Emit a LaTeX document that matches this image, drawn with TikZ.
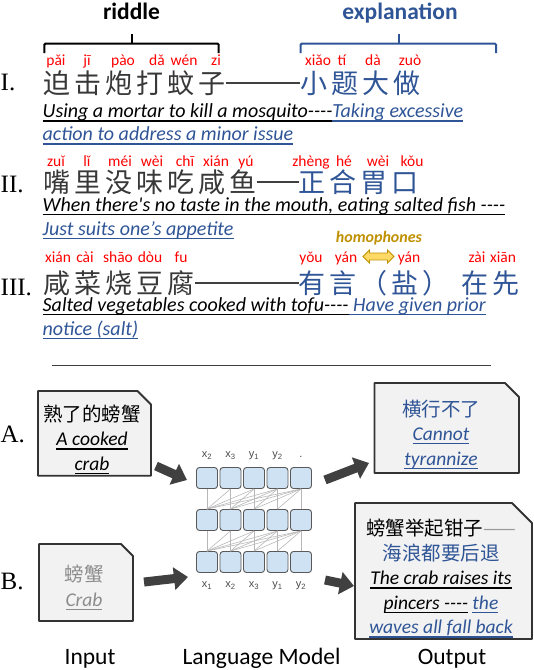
\documentclass[tikz,border=0pt]{standalone}
\usepackage{fontspec}
\setmainfont{Carlito}
\newfontfamily\zh{Noto Sans CJK SC}
\newfontfamily\zhw[LetterSpace=15]{Noto Sans CJK SC}
\newfontfamily\rom{Liberation Serif}
\newfontfamily\arl{Liberation Sans}
\newsavebox{\ulbox}
\newcommand{\uln}[1]{\begingroup\sbox{\ulbox}{#1}\rlap{\rule[-3.8pt]{\wd\ulbox}{1.1pt}}\usebox{\ulbox}\endgroup}
\usetikzlibrary{arrows.meta,shapes.arrows}
\definecolor{expblue}{RGB}{47,85,151}
\definecolor{homgold}{RGB}{191,144,0}
\definecolor{homfill}{RGB}{255,217,102}
\definecolor{cellblue}{RGB}{207,226,243}
\tikzset{
  pinyin/.style={text=red, font=\fontsize{15.5}{16}\selectfont, anchor=base, inner sep=0},
  hanzi/.style={font=\zhw\fontsize{27}{27}\selectfont, anchor=west, inner sep=0},
  gloss/.style={font=\fontsize{20}{20}\selectfont\itshape, anchor=base west, inner sep=0},
  numeral/.style={font=\rom\fontsize{25}{25}\selectfont, anchor=base west, inner sep=0},
  toplabel/.style={font=\bfseries\fontsize{23.5}{24}\selectfont, anchor=base, inner sep=0},
  footlabel/.style={font=\fontsize{23.5}{24}\selectfont, anchor=base, inner sep=0},
  bracket/.style={line width=2pt, rounded corners=1pt},
  dashline/.style={line width=1.3pt, black!75},
  card/.style={draw=black!80, fill=black!5, line width=1.8pt, line join=round},
  cardtext/.style={align=center, anchor=north, inner sep=0, font=\fontsize{19.5}{24.5}\selectfont\itshape},
  cell/.style={draw=black!65, fill=cellblue, rounded corners=3pt, minimum size=21pt, inner sep=0, line width=0.9pt},
  link/.style={black!28, line width=0.6pt},
  lbl/.style={font=\arl\fontsize{11}{11}\selectfont, text=black!70, inner sep=0, anchor=base},
  fat/.style={line width=9pt, draw=black!75, -{Triangle[length=14pt,width=22pt]}},
}
\begin{document}
\begin{tikzpicture}[x=1pt, y=-1pt]
\useasboundingbox (0,0) rectangle (534,670);

\node[toplabel] (riddle) at (131.5,19) {riddle};
\node[toplabel, text=expblue] (explan) at (400,19) {explanation};
\draw[bracket] (44.4,53) |- (218.7,43.7) -- (218.7,53);
\draw[bracket] (131.5,43.7) -- (131.5,34);
\draw[bracket, expblue] (300.7,53) |- (496,43.7) -- (496,53);
\draw[bracket, expblue] (399,43.7) -- (399,34);

\node[numeral] (rom1) at (0.5,90.5) {I.};
\node[hanzi, text=black!78] (r1) at (43,83) {迫击炮打蚊子};
\node[hanzi, text=expblue] (e1) at (300,83) {小题大做};
\draw[dashline] (r1) -- (e1);
\foreach \x/\p in {56/pǎi,87/jī,123/pào,157/dǎ,184/wén,216/zi,318/xiǎo,342/tí,373/dà,410/zuò}
  \node[pinyin] (pa\x) at (\x,65) {\p};
\node[gloss] (g1a) at (42.5,117.7) {\uln{Using a mortar to kill a mosquito-{}-{}-{}-}{\color{expblue}\uln{Taking excessive}}};
\node[gloss, text=expblue] (g1b) at (42.5,140.7) {\uln{action to address a minor issue}};

\node[numeral] (rom2) at (0.5,192.7) {II.};
\node[hanzi, text=black!78] (r2) at (43.5,182) {嘴里没味吃咸鱼};
\node[hanzi, text=expblue] (e2) at (298.5,182) {正合胃口};
\draw[dashline] (r2) -- (e2);
\foreach \x/\p in {56/zuǐ,87/lǐ,120/méi,152/wèi,185/chī,216/xián,246/yú,311/zhèng,344/hé,378/wèi,412/kǒu}
  \node[pinyin] (pb\x) at (\x,166) {\p};
\node[gloss] (g2a) at (42.5,211) {\uln{When there\textquotesingle s no taste in the mouth, eating salted fish -{}-{}-{}-}};
\node[gloss, text=expblue] (g2b) at (42.5,235) {\uln{Just suits one’s appetite}};

\node[numeral] (rom3) at (0.5,295) {III.};
\node[hanzi, text=black!78] (r3) at (43,283) {咸菜烧豆腐};
\node[hanzi, text=expblue] (e3) at (298.5,283) {有言（盐）\hspace{12pt}在先};
\draw[dashline] (r3) -- (e3);
\foreach \x/\p in {58/xián,85/cài,118/shāo,150/dòu,181/fu,311/yǒu,346/yán,409/yán,477/zài,503/xiān}
  \node[pinyin] (pc\x) at (\x,262) {\p};
\node[font=\bfseries\itshape\fontsize{16}{16}\selectfont, text=homgold, anchor=base, inner sep=0] (hom) at (379,242) {homophones};
\node[double arrow, draw=homgold, fill=homfill, line width=0.8pt, minimum height=31pt, minimum width=13pt, double arrow head extend=3pt, inner sep=3pt] (homarr) at (378.5,256.5) {};
\node[gloss] (g3a) at (42.5,311) {\uln{Salted vegetables cooked with tofu-{}-{}-{}-}{\color{expblue}\uln{\ Have given prior}}};
\node[gloss, text=expblue] (g3b) at (42.5,335) {\uln{notice (salt)}};

\draw[line width=1.5pt, black!75] (52,365.4) -- (491,365.4);

\node[numeral] (roma) at (0.5,442) {A.};
\node[numeral] (romb) at (0.5,589) {B.};

\draw[card] (38,475.7) |- (137.5,391) -- (151,404.5) -- (151,475.7) -- cycle;
\draw[card] (374.5,473) |- (505,383) -- (519,397) -- (519,473) -- cycle;
\draw[card] (39,621) |- (121,544) -- (133,556) -- (133,621) -- cycle;
\draw[card] (355,639) |- (512,503) -- (532,523) -- (532,639) -- cycle;

\node[cardtext] (inA) at (92,404.5) {{\zh 熟了的螃蟹}\\\uln{A cooked}\\\uln{crab}};
\node[cardtext, text=expblue] (outA) at (441,399.5) {{\zh 横行不了}\\\uln{Cannot}\\\uln{tyrannize}};
\node[cardtext, text=black!45] (inB) at (84,565) {{\zh 螃蟹}\\\uln{Crab}};
\node[cardtext] (outB) at (441,519) {{\zh 螃蟹举起钳子{\color{black!40}——}}\\{\zh\color{expblue}海浪都要后退}\\\uln{The crab raises its}\\\uln{pincers -{}-{}-{}-}\ {\color{expblue}\uln{the}}\\{\color{expblue}\uln{waves all fall back}}};

\foreach \r in {1,2,3}
  \foreach \c in {1,...,5}
    \node[cell] (u\r\c) at ({183.5+23.5*\c},{604-42*\r}) {};
\foreach \r/\s in {1/2,2/3}
  \foreach \c in {1,...,5}
    \foreach \d in {1,...,\c}
      \draw[link] (u\r\d.north) -- (u\s\c.south);
\foreach \c/\t in {1/x\textsubscript{2},2/x\textsubscript{3},3/y\textsubscript{1},4/y\textsubscript{2},5/.}
  \node[lbl] (top\c) at ([yshift=9.5pt]u3\c.north) {\t};
\foreach \c/\t in {1/x\textsubscript{1},2/x\textsubscript{2},3/x\textsubscript{3},4/y\textsubscript{1},5/y\textsubscript{2}}
  \node[lbl] (bot\c) at ([yshift=-14.5pt]u1\c.south) {\t};

\coordinate (a1s) at (156,466);
\coordinate (a1e) at (187,480);
\coordinate (a2s) at (325,480);
\coordinate (a2e) at (369,463);
\coordinate (b1s) at (144,582);
\coordinate (b1e) at (188,577);
\coordinate (b2s) at (325,580);
\coordinate (b2e) at (354,586);
\draw[fat] (a1s) -- (a1e);
\draw[fat] (a2s) -- (a2e);
\draw[fat] (b1s) -- (b1e);
\draw[fat] (b2s) -- (b2e);

\node[footlabel] (capin) at (90,664) {Input};
\node[footlabel] (caplm) at (261.5,664) {Language Model};
\node[footlabel] (capout) at (452,664) {Output};
\end{tikzpicture}
\end{document}
